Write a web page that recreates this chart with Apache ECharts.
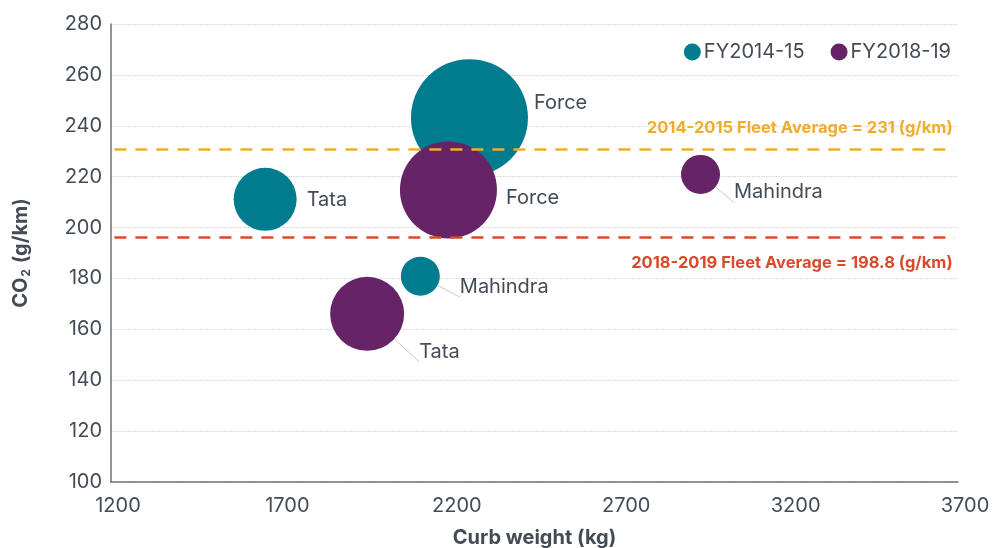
<!DOCTYPE html>
<html>
<head>
<meta charset="utf-8">
<script src="https://cdn.jsdelivr.net/npm/echarts@6/dist/echarts.min.js"></script>
<style>html,body{margin:0;padding:0;background:#fff}#c{width:993px;height:548px}</style>
</head>
<body>
<div id="c"></div>
<script>
const makers = ['Force', 'Tata', 'Mahindra'];
const seriesNames = ['FY2014-15', 'FY2018-19'];
const curbWeight2014 = [2258, 1655, 2113];
const co2_2014 = [243.2, 211.1, 180.9];
const bubble2014 = [117, 63, 39];
const curbWeight2018 = [2196, 1956, 2940];
const co2_2018 = [214.8, 166.1, 220.9];
const bubble2018 = [97, 74, 39];
const fleetAvgValues = [230.6, 196.0];
const fleetAvgLabels = ['2014-2015 Fleet Average = 231 (g/km)', '2018-2019 Fleet Average = 198.8 (g/km)'];
const xTicks = [1200, 1700, 2200, 2700, 3200, 3700];
const yTicks = [100, 120, 140, 160, 180, 200, 220, 240, 260, 280];

const FONT = 'Inter, "Open Sans", sans-serif';
const TXT = '#434c56';
const TEAL = '#007c8f';
const PURPLE = '#662466';
const ORANGE = '#f2ac2b';
const RED = '#d94a2b';

// label placement (styling) per series/maker
const labelStyle2014 = {
  Force: {distance: 6, offset: [0, -15]},
  Tata: {distance: 10, offset: [0, 1]},
  Mahindra: {distance: 20, offset: [0, 11], line: true}
};
const labelStyle2018 = {
  Force: {distance: 9, offset: [0, 8]},
  Tata: {distance: 15, offset: [0, 38], line: true},
  Mahindra: {distance: 14, offset: [0, 18], line: true}
};

function buildData(xs, ys, sizes, styles) {
  return makers.map((m, i) => {
    const s = styles[m];
    return {
      name: m,
      value: [xs[i], ys[i], sizes[i]],
      label: {show: true, position: 'right', distance: s.distance, offset: s.offset},
      labelLine: {show: !!s.line, lineStyle: {color: '#c8c8c8', width: 1}}
    };
  });
}

const chart = echarts.init(document.getElementById('c'));
chart.setOption({
  animation: false,
  textStyle: {fontFamily: FONT},
  grid: {left: 111, right: 35, top: 24, bottom: 66, containLabel: false, outerBoundsMode: 'none'},
  legend: {
    right: 37, top: 37,
    itemWidth: 17, itemHeight: 17, itemGap: 26,
    icon: 'circle',
    textStyle: {fontFamily: FONT, fontSize: 20, color: TXT, padding: [0, 0, 0, -2]},
    data: seriesNames
  },
  xAxis: {
    type: 'value', min: xTicks[0], max: xTicks[xTicks.length - 1], interval: 500,
    name: 'Curb weight (kg)', nameLocation: 'middle', nameGap: 46,
    nameTextStyle: {fontFamily: FONT, fontSize: 20, fontWeight: 'bold', color: TXT},
    axisLine: {show: true, lineStyle: {color: '#6b737b', width: 1.5}},
    axisTick: {show: false},
    splitLine: {show: false},
    axisLabel: {fontFamily: FONT, fontSize: 20, color: TXT, margin: 14, padding: [0, 0, 0, 14],
                formatter: v => String(v)}
  },
  yAxis: {
    type: 'value', min: yTicks[0], max: yTicks[yTicks.length - 1], interval: 20,
    name: '{a|CO}{b|2}{a| (g/km)}', nameLocation: 'middle', nameGap: 79, nameRotate: 90,
    nameTextStyle: {
      rich: {
        a: {fontFamily: FONT, fontSize: 20, fontWeight: 'bold', color: TXT},
        b: {fontFamily: FONT, fontSize: 12, fontWeight: 'bold', color: TXT, padding: [10, 1, 0, 1]}
      }
    },
    axisLine: {show: true, lineStyle: {color: '#6b737b', width: 1.5}},
    axisTick: {show: false},
    splitLine: {show: true, lineStyle: {color: '#cfcfcf', type: 'dotted', width: 1.2}},
    axisLabel: {fontFamily: FONT, fontSize: 20, color: TXT, margin: 9, formatter: v => String(v)}
  },
  series: [
    {
      name: seriesNames[0], type: 'scatter',
      itemStyle: {color: TEAL, opacity: 1},
      symbolSize: d => d[2],
      label: {fontFamily: FONT, fontSize: 20, color: TXT, formatter: '{b}'},
      data: buildData(curbWeight2014, co2_2014, bubble2014, labelStyle2014),
      z: 2
    },
    {
      name: seriesNames[1], type: 'scatter',
      itemStyle: {color: PURPLE, opacity: 1},
      symbolSize: d => d[2],
      label: {fontFamily: FONT, fontSize: 20, color: TXT, formatter: '{b}'},
      data: buildData(curbWeight2018, co2_2018, bubble2018, labelStyle2018),
      z: 3
    },
    {
      name: 'fleet', type: 'scatter', data: [], z: 5, silent: true,
      markLine: {
        silent: true, symbol: 'none', animation: false,
        data: [
          [
            {coord: [1210, fleetAvgValues[0]], lineStyle: {color: ORANGE, type: [12, 9], width: 2.6},
             label: {show: true, position: 'insideEndTop', distance: [2, 13], formatter: fleetAvgLabels[0],
                     color: ORANGE, fontFamily: FONT, fontSize: 16.5, fontWeight: 'bold'}},
            {coord: [3690, fleetAvgValues[0]]}
          ],
          [
            {coord: [1210, fleetAvgValues[1]], lineStyle: {color: RED, type: [12, 9], width: 2.6},
             label: {show: true, position: 'insideEndBottom', distance: [2, 17], formatter: fleetAvgLabels[1],
                     color: RED, fontFamily: FONT, fontSize: 16.5, fontWeight: 'bold'}},
            {coord: [3690, fleetAvgValues[1]]}
          ]
        ]
      }
    }
  ]
});
</script>
</body>
</html>
